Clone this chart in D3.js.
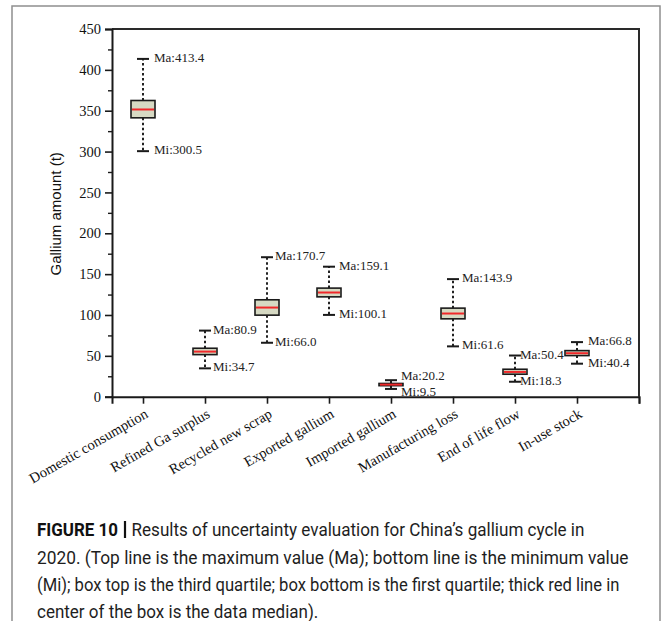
<!DOCTYPE html>
<html>
<head>
<meta charset="utf-8">
<script src="https://cdn.jsdelivr.net/npm/d3@7"></script>
<style>
  html, body { margin: 0; padding: 0; background: #fff; }
  svg { display: block; }
</style>
</head>
<body>
<svg id="chart" width="664" height="621"></svg>
<script>
const categories = ["Domestic consumption", "Refined Ga surplus", "Recycled new scrap", "Exported gallium",
                    "Imported gallium", "Manufacturing loss", "End of life flow", "In-use stock"];
const maxVals    = [413.4, 80.9, 170.7, 159.1, 20.2, 143.9, 50.4, 66.8];
const minVals    = [300.5, 34.7, 66.0, 100.1, 9.5, 61.6, 18.3, 40.4];
const q3Vals     = [362.5, 59.3, 118.6, 132.9, 16.2, 108.4, 33.6, 56.4];
const medianVals = [351.5, 55.2, 109.1, 127.5, 14.8, 101.8, 30.3, 53.2];
const q1Vals     = [341.3, 51.5, 99.8, 122.2, 13.5, 95.3, 27.5, 50.3];
const yTicks     = [0, 50, 100, 150, 200, 250, 300, 350, 400, 450];
const yMinorTicks = [25, 75, 125, 175, 225, 275, 325, 375, 425];
const yTitle = "Gallium amount (t)";
const captionHead = "FIGURE 10";
const captionLines = [
  "Results of uncertainty evaluation for China\u2019s gallium cycle in",
  "2020. (Top line is the maximum value (Ma); bottom line is the minimum value",
  "(Mi); box top is the third quartile; box bottom is the first quartile; thick red line in",
  "center of the box is the data median)."
];

// layout (pixel offsets of value labels from the box centre, per box)
const labelDx = [11, 8, 8, 10, 10, 9, 5, 11];

const svg = d3.select("#chart");
const serif = "'Liberation Serif', 'Times New Roman', Times, serif";
const L = 112, R = 639, T = 29, B = 396.7;

// outer frame
svg.append("rect").attr("x", 12).attr("y", 6).attr("width", 648).attr("height", 640)
  .attr("fill", "none").attr("stroke", "#8f8f8f").attr("stroke-width", 1.5);

const y = d3.scaleLinear().domain([0, 450]).range([B, T]);
const x = d3.scaleLinear().domain([0.5, 9]).range([L, R]);

// plot frame (top and right)
svg.append("path")
  .attr("d", `M${L},${T}H${R}V${B}`)
  .attr("fill", "none").attr("stroke", "#2a2a2a").attr("stroke-width", 2);

// y axis
const yAxis = d3.axisLeft(y).tickValues(yTicks).tickSize(7).tickPadding(4).tickFormat(d3.format("d"));
const gy = svg.append("g").attr("transform", `translate(${L},0)`).call(yAxis);
gy.attr("font-family", serif);
gy.select(".domain").attr("stroke", "#1a1a1a").attr("stroke-width", 2);
gy.selectAll(".tick line").attr("stroke", "#1a1a1a").attr("stroke-width", 1.6);
gy.selectAll(".tick text").attr("font-family", serif).attr("font-size", 14.5).attr("fill", "#111");
const yMinor = d3.axisLeft(y).tickValues(yMinorTicks).tickSize(4).tickFormat("");
const gym = svg.append("g").attr("transform", `translate(${L},0)`).call(yMinor);
gym.select(".domain").remove();
gym.selectAll(".tick line").attr("stroke", "#1a1a1a").attr("stroke-width", 1.4);

// x axis
const xTickVals = d3.range(1, categories.length + 2);
const xAxis = d3.axisBottom(x).tickValues(xTickVals).tickSize(7).tickFormat("");
const gx = svg.append("g").attr("transform", `translate(0,${B})`).call(xAxis);
gx.select(".domain").attr("stroke", "#1a1a1a").attr("stroke-width", 2);
gx.selectAll(".tick line").attr("stroke", "#1a1a1a").attr("stroke-width", 1.6);

svg.append("g").selectAll("text").data(categories).join("text")
  .attr("transform", (d, i) => `translate(${x(i + 1) + 6},${B + 20}) rotate(-30)`)
  .attr("text-anchor", "end")
  .attr("font-family", serif).attr("font-size", 14.5).attr("fill", "#111")
  .text(d => d);

// y title
svg.append("text")
  .attr("transform", `translate(57,${(T + B) / 2 + 1}) rotate(-90)`)
  .attr("text-anchor", "middle").attr("dominant-baseline", "middle")
  .attr("font-family", "'Liberation Sans', Arial, sans-serif").attr("font-size", 15).attr("fill", "#111")
  .text(yTitle);

// boxes
const boxW = 24, capW = 12;
const data = categories.map((c, i) => ({
  c, i, max: maxVals[i], min: minVals[i], q1: q1Vals[i], q3: q3Vals[i], med: medianVals[i]
}));
const g = svg.append("g");
data.forEach(d => {
  const cx = x(d.i + 1);
  g.append("line").attr("x1", cx).attr("x2", cx).attr("y1", y(d.q3)).attr("y2", y(d.max))
    .attr("stroke", "#222").attr("stroke-width", 2).attr("stroke-dasharray", "2.5,2.5");
  g.append("line").attr("x1", cx).attr("x2", cx).attr("y1", y(d.q1)).attr("y2", y(d.min))
    .attr("stroke", "#222").attr("stroke-width", 2).attr("stroke-dasharray", "2.5,2.5");
  [d.max, d.min].forEach(v => {
    g.append("line").attr("x1", cx - capW / 2).attr("x2", cx + capW / 2)
      .attr("y1", y(v)).attr("y2", y(v)).attr("stroke", "#1a1a1a").attr("stroke-width", 2);
  });
  g.append("rect").attr("x", cx - boxW / 2).attr("y", y(d.q3))
    .attr("width", boxW).attr("height", y(d.q1) - y(d.q3))
    .attr("fill", "#d6d9c3").attr("stroke", "#1a1a1a").attr("stroke-width", 1.6);
  g.append("line").attr("x1", cx - boxW / 2 + 1).attr("x2", cx + boxW / 2 - 1)
    .attr("y1", y(d.med)).attr("y2", y(d.med)).attr("stroke", "#f0282a").attr("stroke-width", 2);
  let yMa = y(d.max), yMi = y(d.min);
  const minGap = 16;
  if (yMi - yMa < minGap) {
    const mid = (yMa + yMi) / 2;
    yMa = mid - minGap / 2; yMi = mid + minGap / 2;
  }
  const lx = cx + labelDx[d.i];
  g.append("text").attr("x", lx).attr("y", yMa).attr("dominant-baseline", "middle")
    .attr("font-family", serif).attr("font-size", 13).attr("fill", "#222")
    .text("Ma:" + d.max.toFixed(1));
  g.append("text").attr("x", lx).attr("y", yMi).attr("dominant-baseline", "middle")
    .attr("font-family", serif).attr("font-size", 13).attr("fill", "#222")
    .text("Mi:" + d.min.toFixed(1));
});

// caption (horizontally compressed via scale transform)
const capFont = "'Liberation Sans Narrow', Roboto, 'Liberation Sans', Arial, sans-serif";
const capSize = 19;
const baselines = [536, 563.5, 590.5, 617.5];
const capStarts = [131.5, 37, 37, 37];
const capTargets = [453.5, 592, 583, null];

function squeeze(t, x0, y0, target) {
  const nat = t.node().getComputedTextLength();
  const r = target / nat;
  t.attr("x", 0).attr("y", 0).attr("transform", `translate(${x0},${y0}) scale(${r},1)`);
  return r;
}

const head = svg.append("text")
  .attr("font-family", capFont).attr("font-size", capSize).attr("font-weight", "bold").attr("fill", "#111")
  .text(captionHead);
squeeze(head, 37, baselines[0], 81);
svg.append("line").attr("x1", 125).attr("x2", 125).attr("y1", baselines[0] - 15).attr("y2", baselines[0] + 2)
  .attr("stroke", "#111").attr("stroke-width", 2.2);

const capNodes = captionLines.map((line, i) =>
  svg.append("text")
    .attr("font-family", capFont).attr("font-size", capSize).attr("fill", "#1e1e1e")
    .text(line));
const ratios = [];
capNodes.forEach((t, i) => {
  if (capTargets[i]) ratios.push(squeeze(t, capStarts[i], baselines[i], capTargets[i]));
});
const avgR = d3.mean(ratios);
const t4 = capNodes[3];
squeeze(t4, capStarts[3], baselines[3], t4.node().getComputedTextLength() * avgR);
</script>
</body>
</html>
